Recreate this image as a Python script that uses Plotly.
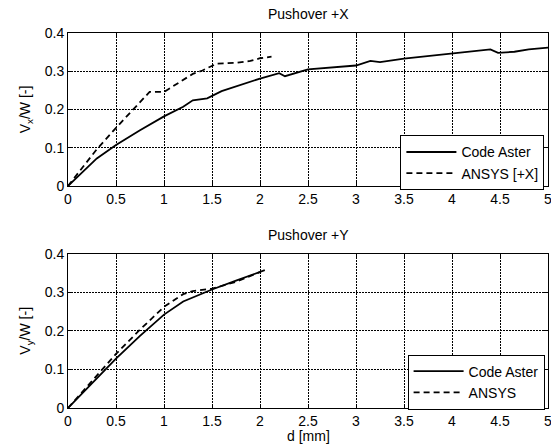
import plotly.graph_objects as go

# Pushover +X
x_aster_x = [0, 0.3, 0.5, 0.75, 1.0, 1.2, 1.3, 1.45, 1.6, 1.75, 2.0, 2.2, 2.26, 2.5, 3.0, 3.15,
             3.25, 3.5, 4.0, 4.4, 4.48, 4.65, 4.8, 5.0]
y_aster_x = [0, 0.072, 0.107, 0.146, 0.182, 0.207, 0.224, 0.229, 0.248, 0.261, 0.281, 0.295, 0.287,
             0.305, 0.315, 0.327, 0.324, 0.333, 0.346, 0.357, 0.348, 0.351, 0.357, 0.362]
x_ansys_x = [0, 0.3, 0.5, 0.7, 0.85, 1.0, 1.1, 1.2, 1.3, 1.4, 1.55, 1.75, 1.9, 2.0, 2.12]
y_ansys_x = [0, 0.096, 0.152, 0.206, 0.246, 0.246, 0.262, 0.279, 0.293, 0.302, 0.320, 0.322,
             0.327, 0.334, 0.338]

# Pushover +Y
x_aster_y = [0, 0.25, 0.5, 0.75, 1.0, 1.2, 1.5, 1.75, 2.05]
y_aster_y = [0, 0.064, 0.128, 0.187, 0.242, 0.276, 0.307, 0.330, 0.357]
x_ansys_y = [0, 0.25, 0.5, 0.75, 1.0, 1.2, 1.3, 1.5, 1.75, 2.0]
y_ansys_y = [0, 0.070, 0.140, 0.203, 0.262, 0.295, 0.303, 0.309, 0.327, 0.352]

x_ticks = [0, 0.5, 1, 1.5, 2, 2.5, 3, 3.5, 4, 4.5, 5]
x_tick_text = ["0", "0.5", "1", "1.5", "2", "2.5", "3", "3.5", "4", "4.5", "5"]
y_ticks = [0, 0.1, 0.2, 0.3, 0.4]
y_tick_text = ["0", "0.1", "0.2", "0.3", "0.4"]

FONT = "Liberation Sans, Arial, sans-serif"
FS = 14
solid = dict(color="black", width=1.8)
dashed = dict(color="black", width=1.8, dash="6px,4px")

fig = go.Figure()
fig.add_trace(go.Scatter(x=x_aster_x, y=y_aster_x, mode="lines", line=solid,
                         name="Code Aster", xaxis="x", yaxis="y", legend="legend"))
fig.add_trace(go.Scatter(x=x_ansys_x, y=y_ansys_x, mode="lines", line=dashed,
                         name="ANSYS [+X]", xaxis="x", yaxis="y", legend="legend"))
fig.add_trace(go.Scatter(x=x_aster_y, y=y_aster_y, mode="lines", line=solid,
                         name="Code Aster", xaxis="x2", yaxis="y2", legend="legend2"))
fig.add_trace(go.Scatter(x=x_ansys_y, y=y_ansys_y, mode="lines", line=dashed,
                         name="ANSYS", xaxis="x2", yaxis="y2", legend="legend2"))

axis_common = dict(
    showline=True, linecolor="black", linewidth=1, mirror="ticks",
    ticks="inside", ticklen=4, tickcolor="black",
    showgrid=True, gridcolor="black", gridwidth=1, griddash="2px,1px",
    zeroline=False, tickfont=dict(family=FONT, size=FS, color="black"),
    ticklabeloverflow="allow", automargin=False,
)

legend_common = dict(xanchor="left", yanchor="top", bgcolor="white",
                     bordercolor="black", borderwidth=1, itemwidth=50,
                     font=dict(family=FONT, size=FS), tracegroupgap=0)

fig.update_layout(
    width=551, height=448,
    margin=dict(l=68, r=3, t=33, b=40),
    paper_bgcolor="white", plot_bgcolor="white",
    font=dict(family=FONT, size=FS, color="black"),
    xaxis=dict(axis_common, range=[0, 5], tickvals=x_ticks, ticktext=x_tick_text,
               anchor="y", domain=[0, 1]),
    yaxis=dict(axis_common, range=[0, 0.4], tickvals=y_ticks, ticktext=y_tick_text,
               domain=[0.592, 1.0], anchor="x",
               title=dict(text="V<sub>x</sub>/W [-]", font=dict(size=FS), standoff=10)),
    xaxis2=dict(axis_common, range=[0, 5], tickvals=x_ticks, ticktext=x_tick_text,
                anchor="y2", domain=[0, 1]),
    yaxis2=dict(axis_common, range=[0, 0.4], tickvals=y_ticks, ticktext=y_tick_text,
                domain=[0, 0.4117], anchor="x2",
                title=dict(text="V<sub>y</sub>/W [-]", font=dict(size=FS), standoff=10)),
    legend=dict(legend_common, x=0.6925, y=0.727),
    legend2=dict(legend_common, x=0.7075, y=0.1425),
    annotations=[
        dict(text="Pushover +X", x=0.5, y=1.0, xref="paper", yref="paper",
             xanchor="center", yanchor="bottom", yshift=9, showarrow=False,
             font=dict(family=FONT, size=14)),
        dict(text="Pushover +Y", x=0.5, y=0.4117, xref="paper", yref="paper",
             xanchor="center", yanchor="bottom", yshift=9, showarrow=False,
             font=dict(family=FONT, size=14)),
        dict(text="d [mm]", x=0.5, y=0.0, xref="paper", yref="paper",
             xanchor="center", yanchor="middle", yshift=-28, showarrow=False,
             font=dict(family=FONT, size=FS)),
    ],
)

fig.write_html("out.html")
